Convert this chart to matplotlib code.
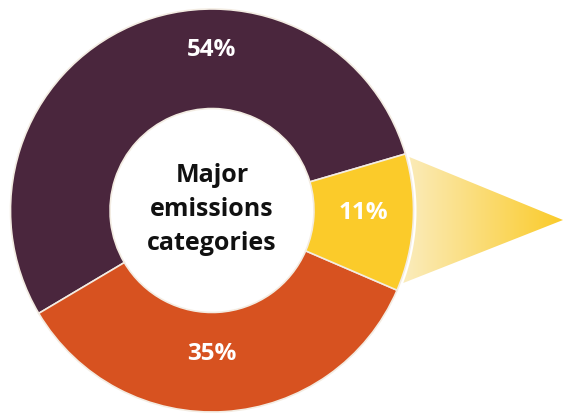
import numpy as np
import matplotlib.pyplot as plt
from matplotlib.colors import LinearSegmentedColormap
from matplotlib.patches import Polygon

plt.rcParams['font.family'] = ['Open Sans', 'DejaVu Sans']

# emissions shares, drawn counter-clockwise from the purple slice
labels = ['54%', '35%', '11%']
shares = [54, 35, 11]
colors = ['#4a263d', '#d75220', '#fbcb2a']

W, H = 563, 415
cx, cy = 212, H - 210.5
R = 201.5

fig = plt.figure(figsize=(W / 100, H / 100), dpi=100)
ax = fig.add_axes([0, 0, 1, 1])

ax.pie(shares, colors=colors, startangle=16.3, counterclock=True,
       center=(cx, cy), radius=R,
       wedgeprops=dict(width=R * 0.494, edgecolor='#f3ece2', linewidth=1.2))

# percentage labels, placed by angle / radius from the centre
label_pos = [(90, 161), (270, 144), (-1.1, 151.5)]
for txt, (ang, rr) in zip(labels, label_pos):
    a = np.deg2rad(ang)
    ax.text(cx + rr * np.cos(a), cy + rr * np.sin(a), txt, color='white',
            fontsize=17.5, fontweight='bold', ha='center', va='center')

ax.text(cx, cy + 1, 'Major\nemissions\ncategories', color='#111111',
        fontsize=18, fontweight='bold', ha='center', va='center',
        linespacing=1.45)

# callout triangle with a curved base following the ring
r0 = R + 3
top_y, bot_y, tip = H - 157, H - 283, (W, H - 220)
a_top = np.arcsin((top_y - cy) / r0)
a_bot = np.arcsin((bot_y - cy) / r0)
arc = np.linspace(a_top, a_bot, 40)
pts = [(cx + r0 * np.cos(t), cy + r0 * np.sin(t)) for t in arc] + [tip]
tri = Polygon(pts, closed=True, facecolor='none', edgecolor='none')
ax.add_patch(tri)

cmap = LinearSegmentedColormap.from_list('fade', ['#faecbd', '#fbcb2a'])
x0 = min(p[0] for p in pts)
grad = np.linspace(0, 1, 256).reshape(1, -1)
im = ax.imshow(grad, cmap=cmap, extent=(x0, W, bot_y, top_y),
               aspect='auto', zorder=0)
im.set_clip_path(tri)

ax.set_xlim(0, W)
ax.set_ylim(0, H)
ax.set_aspect('equal')
ax.axis('off')

fig.savefig('out.png', dpi=100)
